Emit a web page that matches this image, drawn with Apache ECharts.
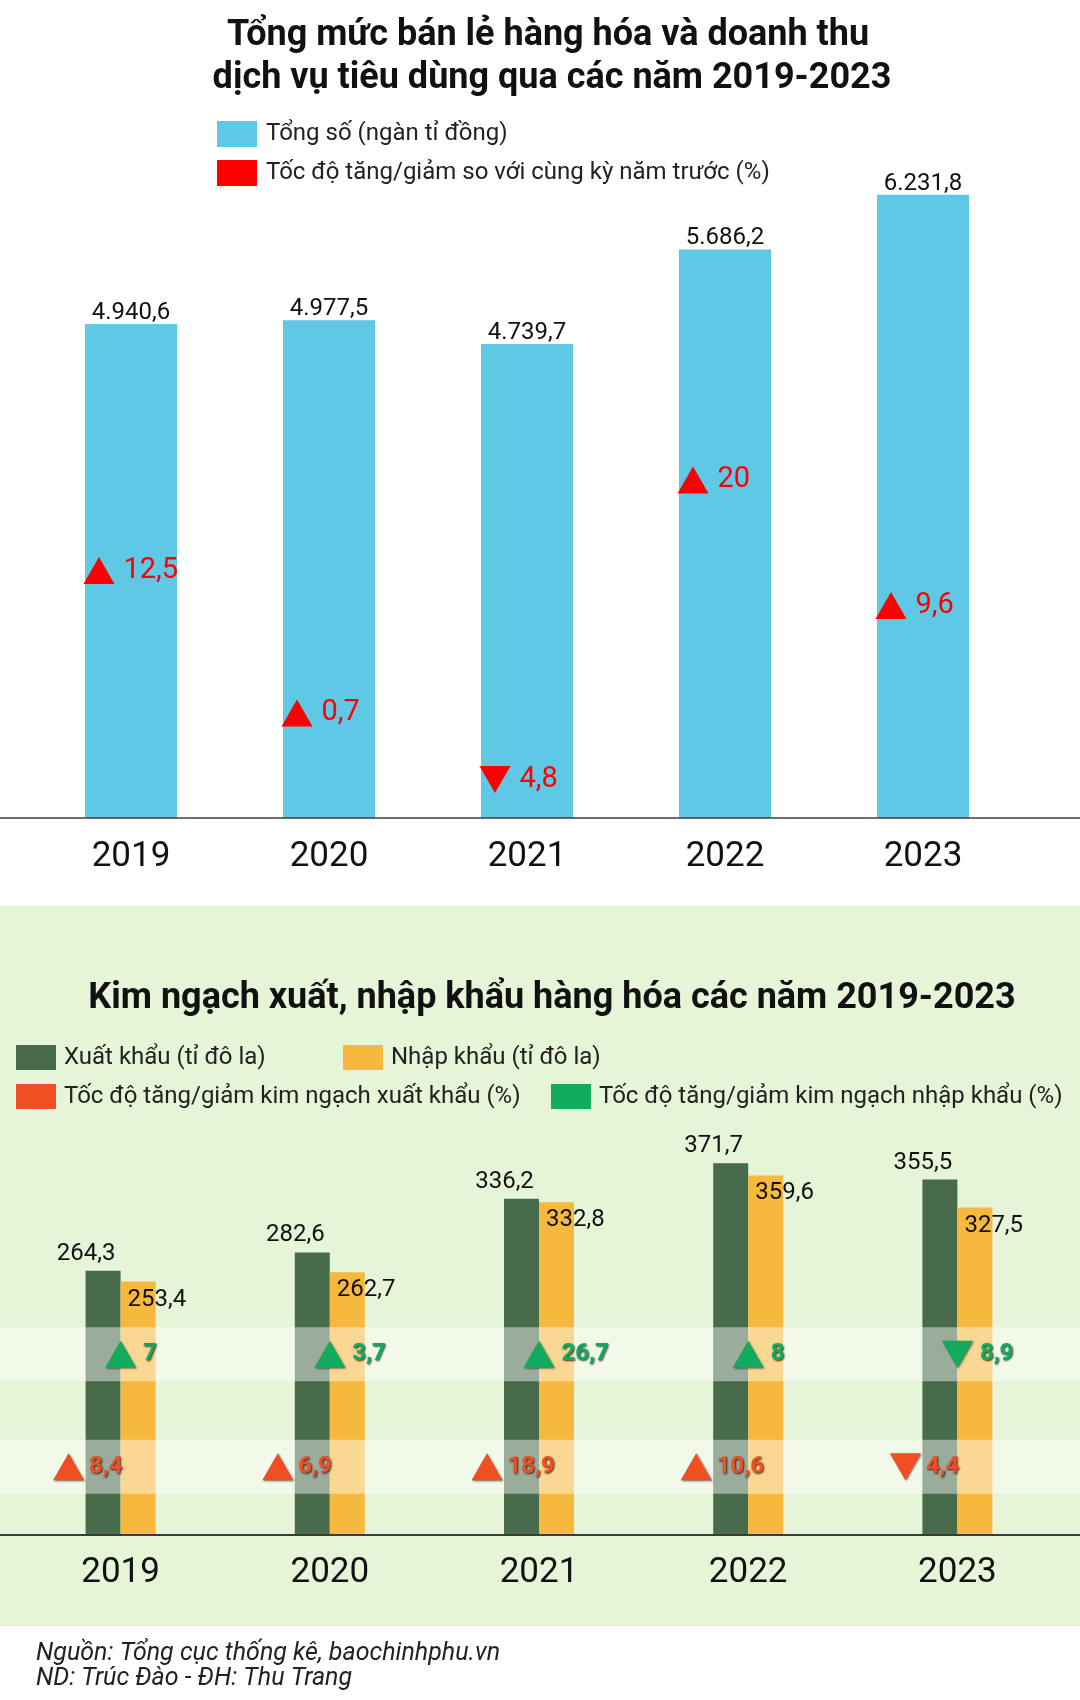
<!DOCTYPE html>
<html lang="vi">
<head>
<meta charset="utf-8">
<title>Tổng mức bán lẻ và kim ngạch xuất nhập khẩu 2019-2023</title>
<script src="https://cdn.jsdelivr.net/npm/echarts@6/dist/echarts.min.js"></script>
<style>
  html, body { margin: 0; padding: 0; background: #fff; }
  #container { width: 1080px; height: 1700px; }
</style>
</head>
<body>
<div id="container"></div>
<script>
// so lieu
var years = ['2019', '2020', '2021', '2022', '2023'];
var retailTotal = [4940.6, 4977.5, 4739.7, 5686.2, 6231.8];
var retailGrowth = [12.5, 0.7, -4.8, 20, 9.6];
var exportValue = [264.3, 282.6, 336.2, 371.7, 355.5];
var importValue = [253.4, 262.7, 332.8, 359.6, 327.5];
var exportGrowth = [8.4, 6.9, 18.9, 10.6, -4.4];
var importGrowth = [7, 3.7, 26.7, 8, -8.9];

var UP = 'path://M1,0L2,2L0,2Z';
var DOWN = 'path://M0,0L2,0L1,2Z';
var FONT = 'Roboto';

// 4.940,6 kieu Viet Nam
function fmtVN(v) {
  var p = v.toFixed(1).split('.');
  return p[0].replace(/\B(?=(\d{3})+(?!\d))/g, '.') + ',' + p[1];
}
function fmtRate(v) {
  return String(Math.abs(v)).replace('.', ',');
}

var myChart = echarts.init(document.getElementById('container'), null, { renderer: 'canvas' });

var shadowText = {
  textShadowColor: 'rgba(0,0,0,0.75)',
  textShadowBlur: 2,
  textShadowOffsetX: 1,
  textShadowOffsetY: 1
};

function rateItems(arr, row) {
  return arr.map(function (g, i) {
    return {
      value: row ? [years[i], row] : [years[i], g],
      rate: g,
      symbol: g < 0 ? DOWN : UP
    };
  });
}

function oneLegend(name, left, top) {
  return {
    data: [name],
    left: left, top: top, padding: 0,
    icon: 'rect', itemWidth: 40, itemHeight: 25,
    selectedMode: false,
    textStyle: { fontFamily: FONT, fontSize: 24, color: '#222', padding: [0, 0, 0, 3] }
  };
}

function titleText(text, x, y) {
  return { type: 'text', x: x, y: y, z: 10, silent: true,
    style: { text: text, fontFamily: FONT, fontSize: 36, fontWeight: 'bold', fill: '#111',
      align: 'center', verticalAlign: 'middle' } };
}

var option = {
  backgroundColor: '#fff',
  animation: false,
  title: [
    { text: 'Nguồn: Tổng cục thống kê, baochinhphu.vn\nND: Trúc Đào - ĐH: Thu Trang', left: 31, top: 1636,
      textStyle: { fontFamily: FONT, fontSize: 25, fontStyle: 'italic', fontWeight: 'normal', color: '#222', lineHeight: 25 } }
  ],
  legend: [
    {
      data: ['Tổng số (ngàn tỉ đồng)', 'Tốc độ tăng/giảm so với cùng kỳ năm trước (%)'],
      orient: 'vertical', left: 217, top: 121, itemGap: 13, padding: 0,
      icon: 'rect', itemWidth: 40, itemHeight: 26,
      selectedMode: false,
      textStyle: { fontFamily: FONT, fontSize: 24, color: '#222', padding: [0, 0, 0, 4] }
    },
    oneLegend('Xuất khẩu (tỉ đô la)', 16, 1045),
    oneLegend('Nhập khẩu (tỉ đô la)', 343, 1045),
    oneLegend('Tốc độ tăng/giảm kim ngạch xuất khẩu (%)', 16, 1084),
    oneLegend('Tốc độ tăng/giảm kim ngạch nhập khẩu (%)', 551, 1084)
  ],
  grid: [
    { left: 32, right: 58, top: 118, height: 700 },
    { left: 16, right: 18, top: 1135, height: 400 },
    { left: 16, right: 18, top: 1298, height: 225 }
  ],
  xAxis: [
    { type: 'category', gridIndex: 0, data: years,
      axisLine: { show: false }, axisTick: { show: false },
      axisLabel: { fontFamily: FONT, fontSize: 35, color: '#111', margin: 22 } },
    { type: 'category', gridIndex: 1, data: years,
      axisLine: { show: false }, axisTick: { show: false },
      axisLabel: { fontFamily: FONT, fontSize: 35, color: '#111', margin: 21 } },
    { type: 'category', gridIndex: 2, data: years, show: false }
  ],
  yAxis: [
    { type: 'value', gridIndex: 0, min: 0, max: 7000, show: false, splitLine: { show: false } },
    { type: 'value', gridIndex: 0, min: -8, max: 50, show: false, splitLine: { show: false } },
    { type: 'value', gridIndex: 1, min: 0, max: 400, show: false, splitLine: { show: false } },
    { type: 'category', gridIndex: 2, data: ['XK', 'NK'], show: false }
  ],
  series: [
    {
      name: 'Tổng số (ngàn tỉ đồng)',
      type: 'bar', xAxisIndex: 0, yAxisIndex: 0,
      barWidth: 92,
      data: retailTotal,
      itemStyle: { color: '#5ec8e5' },
      label: { show: true, position: 'top', distance: -1, fontFamily: FONT, fontSize: 24, color: '#111',
        formatter: function (p) { return fmtVN(p.value); } }
    },
    {
      name: 'Tốc độ tăng/giảm so với cùng kỳ năm trước (%)',
      type: 'scatter', xAxisIndex: 0, yAxisIndex: 1, z: 4,
      symbolSize: [31, 27], symbolOffset: [-32, 0],
      data: rateItems(retailGrowth),
      itemStyle: { color: '#ff0000', opacity: 1 },
      label: { show: true, position: 'right', distance: 9, fontFamily: FONT, fontSize: 29, color: '#ff0000',
        formatter: function (p) { return fmtRate(p.data.rate); } }
    },
    {
      name: 'Xuất khẩu (tỉ đô la)',
      type: 'bar', xAxisIndex: 1, yAxisIndex: 2,
      barWidth: 35, barGap: '0%',
      data: exportValue,
      itemStyle: { color: '#476b4b' },
      label: { show: true, position: 'top', offset: [-17, 0], fontFamily: FONT, fontSize: 24, color: '#111',
        formatter: function (p) { return fmtVN(p.value); } }
    },
    {
      name: 'Nhập khẩu (tỉ đô la)',
      type: 'bar', xAxisIndex: 1, yAxisIndex: 2,
      barWidth: 35, barGap: '0%',
      data: importValue,
      itemStyle: { color: '#f6b93d' },
      label: { show: true, position: 'insideTopLeft', offset: [2, 1], fontFamily: FONT, fontSize: 24, color: '#111',
        formatter: function (p) { return fmtVN(p.value); } }
    },
    {
      name: 'Tốc độ tăng/giảm kim ngạch xuất khẩu (%)',
      type: 'scatter', xAxisIndex: 2, yAxisIndex: 3, z: 5,
      symbolSize: [31, 27], symbolOffset: [-52, 0],
      data: rateItems(exportGrowth, 'XK'),
      itemStyle: { color: '#f04e23', opacity: 1, shadowColor: 'rgba(0,0,0,0.5)', shadowBlur: 2, shadowOffsetX: 1, shadowOffsetY: 1 },
      label: Object.assign({ show: true, position: 'right', distance: 5, fontFamily: FONT, fontSize: 24,
        fontWeight: 'bold', color: '#f04e23',
        formatter: function (p) { return fmtRate(p.data.rate); } }, shadowText)
    },
    {
      name: 'Tốc độ tăng/giảm kim ngạch nhập khẩu (%)',
      type: 'scatter', xAxisIndex: 2, yAxisIndex: 3, z: 5,
      symbolSize: [31, 27], symbolOffset: [0, 0],
      data: rateItems(importGrowth, 'NK'),
      itemStyle: { color: '#12ab5e', opacity: 1, shadowColor: 'rgba(0,0,0,0.5)', shadowBlur: 2, shadowOffsetX: 1, shadowOffsetY: 1 },
      label: Object.assign({ show: true, position: 'right', distance: 7, fontFamily: FONT, fontSize: 24,
        fontWeight: 'bold', color: '#12ab5e',
        formatter: function (p) { return fmtRate(p.data.rate); } }, shadowText)
    }
  ]
};

myChart.setOption(option);

// nen xanh, vach ngang, cac dai sang va tieu de
var base1 = myChart.convertToPixel({ yAxisIndex: 0 }, 0);
var base2 = myChart.convertToPixel({ yAxisIndex: 2 }, 0);
var rowNK = myChart.convertToPixel({ yAxisIndex: 3 }, 'NK');
var rowXK = myChart.convertToPixel({ yAxisIndex: 3 }, 'XK');

myChart.setOption({
  graphic: [
    { type: 'rect', z: -10, silent: true, shape: { x: 0, y: 906, width: 1080, height: 720 },
      style: { fill: '#e6f4d8' } },
    { type: 'line', z: 3, silent: true, shape: { x1: 0, y1: base1, x2: 1080, y2: base1 },
      style: { stroke: '#3c3c3c', lineWidth: 1.5 } },
    { type: 'line', z: 3, silent: true, shape: { x1: 0, y1: base2, x2: 1080, y2: base2 },
      style: { stroke: '#3c3c3c', lineWidth: 2 } },
    { type: 'rect', z: 3, silent: true, shape: { x: 0, y: rowNK - 27, width: 1080, height: 54 },
      style: { fill: 'rgba(255,255,255,0.45)' } },
    { type: 'rect', z: 3, silent: true, shape: { x: 0, y: rowXK - 27, width: 1080, height: 54 },
      style: { fill: 'rgba(255,255,255,0.45)' } },
    titleText('Tổng mức bán lẻ hàng hóa và doanh thu', 548, 36),
    titleText('dịch vụ tiêu dùng qua các năm 2019-2023', 552, 79),
    titleText('Kim ngạch xuất, nhập khẩu hàng hóa các năm 2019-2023', 552, 999)
  ]
});
</script>
</body>
</html>
